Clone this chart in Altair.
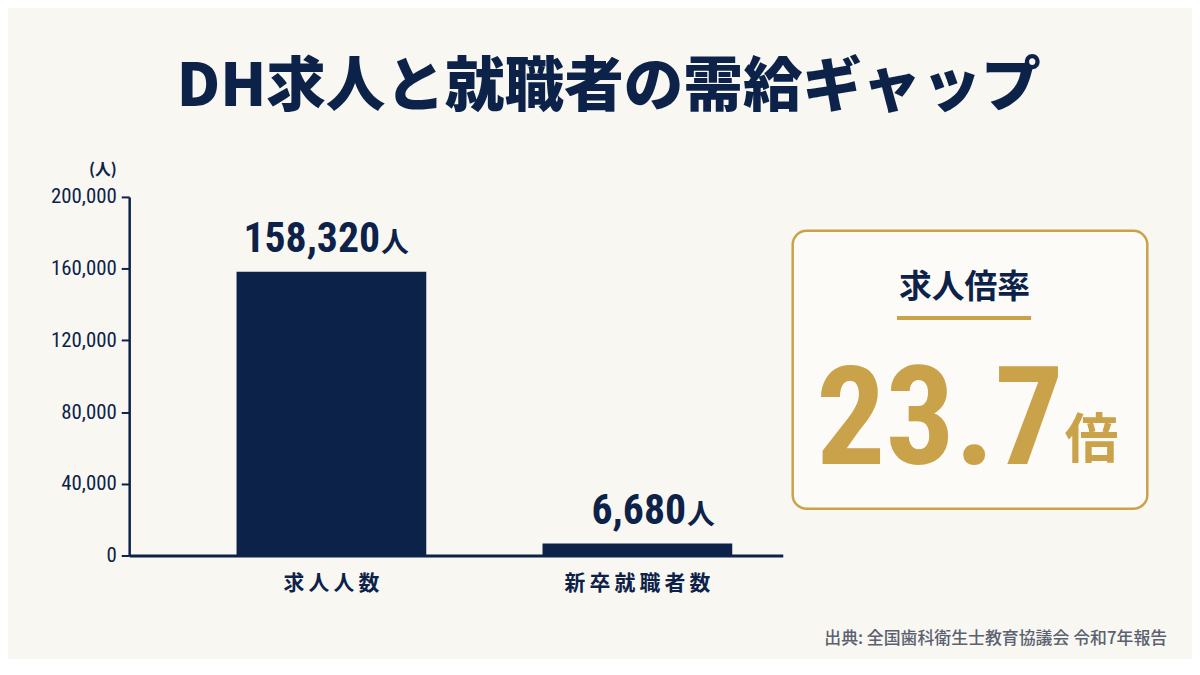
import altair as alt
import pandas as pd

# ---- data ----
categories = ["求人人数", "新卒就職者数"]
values = [158320, 6680]
unit = "人"
ratio_label = "求人倍率"
ratio_value = 23.7
ratio_unit = "倍"
y_ticks = [0, 40000, 80000, 120000, 160000, 200000]
title_text = "DH求人と就職者の需給ギャップ"
source_text = "出典: 全国歯科衛生士教育協議会  令和7年報告"

NAVY = "#0c2249"
GOLD = "#c9a24a"
BG = "#f9f7f2"
CJK = "Noto Sans CJK JP"
NARROW = "Roboto Condensed"

df = pd.DataFrame({"category": categories, "value": values, "unit": [unit] * len(categories)})

W_LEFT, H = 658, 361

x_enc = alt.X(
    "category:N",
    sort=categories,
    scale=alt.Scale(paddingInner=0.38, paddingOuter=0.258, align=0.68),
    axis=alt.Axis(
        title=None,
        ticks=False,
        domainColor=NAVY,
        domainWidth=3,
        labelFont=CJK,
        labelFontSize=21,
        labelFontWeight="bold",
        labelColor=NAVY,
        labelPadding=17,
        labelAngle=0,
        labelExpr="join(split(datum.label, ''), '\u2009')",
    ),
)
y_enc = alt.Y(
    "value:Q",
    scale=alt.Scale(domain=[0, 200000], nice=False),
    axis=alt.Axis(
        values=y_ticks,
        format=",.0f",
        grid=False,
        domainColor=NAVY,
        domainWidth=2.5,
        tickColor=NAVY,
        tickWidth=2,
        tickSize=8,
        labelFont=NARROW,
        labelFontSize=21,
        labelColor=NAVY,
        labelPadding=5,
        title="(人)",
        titleAngle=0,
        titleFont=CJK,
        titleFontSize=16,
        titleFontWeight="bold",
        titleColor=NAVY,
        titleAlign="center",
        titleBaseline="middle",
        titleX=-27,
        titleY=-28,
    ),
)

base = alt.Chart(df)
bars = base.mark_bar(color=NAVY).encode(x=x_enc, y=y_enc)
num = base.mark_text(
    font=NARROW, fontSize=42, fontWeight="bold", color=NAVY,
    align="right", baseline="alphabetic", dx=49, dy=-20,
).encode(x=alt.X("category:N", sort=categories), y="value:Q", text=alt.Text("value:Q", format=",.0f"))
ren = base.mark_text(
    font=CJK, fontSize=28, fontWeight="bold", color=NAVY,
    align="left", baseline="alphabetic", dx=50, dy=-20,
).encode(x=alt.X("category:N", sort=categories), y="value:Q", text="unit:N")

left = alt.layer(bars, num, ren).properties(width=W_LEFT, height=H)

# ---- right panel: ratio box ----
rdf = pd.DataFrame({"label": [ratio_label], "ratio": [ratio_value], "unit": [ratio_unit], "src": [source_text]})
rbase = alt.Chart(rdf)
box = rbase.mark_rect(fill="#fcfbf7", stroke=GOLD, strokeWidth=2.5, cornerRadius=14).encode(
    x=alt.value(0), x2=alt.value(357), y=alt.value(34), y2=alt.value(314)
)
lbl = rbase.mark_text(font=CJK, fontSize=33, fontWeight="bold", color=NAVY, baseline="middle").encode(
    x=alt.value(173), y=alt.value(92),
    text=alt.Text("label:N"),
)
rule = rbase.mark_rule(color=GOLD, strokeWidth=4).encode(
    x=alt.value(105), x2=alt.value(240), y=alt.value(122)
)
big = rbase.mark_text(font=NARROW, fontSize=138, fontWeight="bold", color=GOLD, align="right", baseline="alphabetic").encode(
    x=alt.value(273), y=alt.value(269), text=alt.Text("ratio:Q", format=".1f")
)
bai = rbase.mark_text(font=CJK, fontSize=54, fontWeight="bold", color=GOLD, align="left", baseline="alphabetic").encode(
    x=alt.value(274), y=alt.value(263), text="unit:N"
)
src = rbase.mark_text(font=CJK, fontSize=17, fontWeight=500, color="#5b6170", align="right", baseline="middle").encode(
    x=alt.value(377), y=alt.value(445), text="src:N"
)
right = alt.layer(box, lbl, rule, big, bai, src).properties(width=357, height=H)

chart = (
    alt.hconcat(left, right, spacing=10, bounds="flush")
    .properties(
        title=alt.TitleParams(
            text=title_text, font=CJK, fontSize=60, fontWeight=900, color=NAVY,
            anchor="middle", offset=43,
        ),
        background=BG,
        padding={"left": 42, "top": 48, "right": 25, "bottom": 10},
    )
    .configure_view(strokeWidth=0)
)

chart.save("out.html", embed_options={"renderer": "svg", "actions": False})
